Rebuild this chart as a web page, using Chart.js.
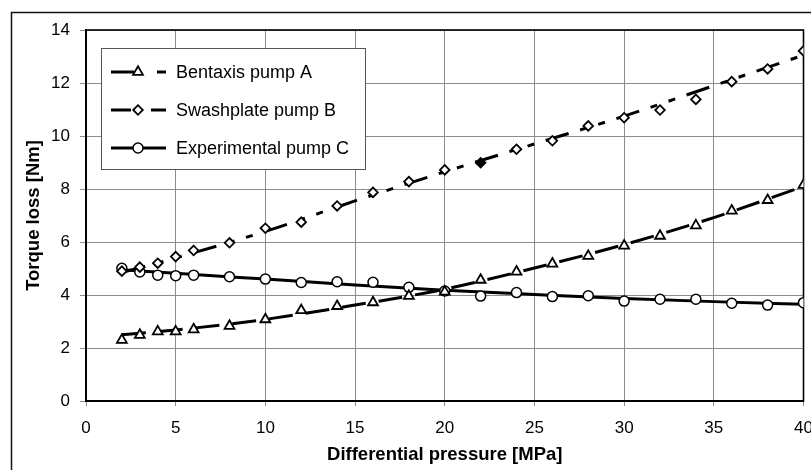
<!DOCTYPE html>
<html><head><meta charset="utf-8">
<script src="https://cdn.jsdelivr.net/npm/chart.js@4/dist/chart.umd.min.js"></script>
<style>html,body{margin:0;padding:0;background:#fff;overflow:hidden}#wrap{width:811px;height:470px;position:relative}</style>
</head><body><div id="wrap"><canvas id="c" width="811" height="470"></canvas></div>
<script>
// ---- data ----
const pressure = [2,3,4,5,6,8,10,12,14,16,18,20,22,24,26,28,30,32,34,36,38,40];
const pumpA = [2.30,2.49,2.62,2.62,2.70,2.83,3.08,3.42,3.58,3.72,3.96,4.12,4.57,4.88,5.18,5.47,5.86,6.23,6.62,7.18,7.58,8.15];
const pumpB = [4.90,5.05,5.20,5.45,5.68,5.97,6.52,6.75,7.36,7.87,8.28,8.72,8.99,9.50,9.82,10.38,10.69,10.98,11.38,12.05,12.53,13.21];
const pumpC = [5.01,4.87,4.75,4.73,4.75,4.69,4.60,4.47,4.50,4.48,4.29,4.15,3.96,4.09,3.94,3.97,3.77,3.84,3.84,3.69,3.62,3.71];
const trendX = [2,5,10,15,20,25,30,35,40];
const trendA = [2.50,2.68,3.08,3.62,4.22,5.02,5.90,6.92,8.10];
const trendB = [4.85,5.40,6.40,7.55,8.65,9.70,10.75,11.90,13.05];
const trendC = [4.95,4.82,4.60,4.38,4.18,4.02,3.87,3.75,3.65];
const xTicks = [0,5,10,15,20,25,30,35,40];
const yTicks = [0,2,4,6,8,10,12,14];
const seriesNames = ['Bentaxis pump A','Swashplate pump B','Experimental pump C'];
const xTitle = 'Differential pressure [MPa]';
const yTitle = 'Torque loss [Nm]';

const FONT = '"Liberation Sans", Arial, Helvetica, sans-serif';
const pts = (xs, ys) => xs.map((x, i) => ({x: x, y: ys[i]}));

const markerStyles = [
  {pointStyle: 'triangle', radius: 5.7, borderWidth: 1.8},
  {pointStyle: 'rectRot', radius: 4.8, borderWidth: 1.8},
  {pointStyle: 'circle', radius: 5, borderWidth: 1.5}
];
const dashes = [[24, 13], [24, 12, 7, 12, 7, 12], []];

const markerSets = [pumpA, pumpB, pumpC].map((ys, k) => ({
  label: seriesNames[k],
  data: pts(pressure, ys),
  showLine: false,
  pointStyle: markerStyles[k].pointStyle,
  pointRadius: markerStyles[k].radius,
  pointBorderWidth: markerStyles[k].borderWidth,
  pointBorderColor: '#000',
  pointBackgroundColor: k === 1 ? (c => (c.raw && c.raw.x === 22) ? '#000' : '#fff') : '#fff',
  pointHoverRadius: markerStyles[k].radius
}));
const trendSets = [trendA, trendB, trendC].map((ys, k) => ({
  label: seriesNames[k] + ' trend',
  data: pts(trendX, ys),
  showLine: true,
  pointRadius: 0,
  borderColor: '#000',
  borderWidth: 3,
  borderDash: dashes[k],
  cubicInterpolationMode: 'monotone',
  fill: false
}));

const framePlugin = {
  id: 'frame',
  beforeDraw(chart) {
    const ctx = chart.ctx;
    ctx.save();
    ctx.fillStyle = '#fff';
    ctx.fillRect(0, 0, chart.width, chart.height);
    ctx.strokeStyle = '#111';
    ctx.lineWidth = 1.5;
    ctx.strokeRect(11.5, 12.5, chart.width + 10, chart.height + 10);
    ctx.restore();
  },
  beforeDatasetsDraw(chart) {
    const a = chart.chartArea, ctx = chart.ctx;
    ctx.save();
    ctx.strokeStyle = '#000';
    ctx.lineWidth = 1.6;
    ctx.strokeRect(a.left, a.top, a.right - a.left, a.bottom - a.top);
    ctx.restore();
  },
  afterDraw(chart) {
    const ctx = chart.ctx;
    ctx.save();
    const bx = 101.5, by = 48.5, bw = 264, bh = 121;
    ctx.fillStyle = '#fff';
    ctx.fillRect(bx, by, bw, bh);
    ctx.strokeStyle = '#555';
    ctx.lineWidth = 1;
    ctx.strokeRect(bx, by, bw, bh);
    const rows = [72, 110, 148];
    const segs = [
      [[111, 134], [157, 166]],
      [[111, 131], [151, 166]],
      [[111, 166]]
    ];
    rows.forEach((y, k) => {
      ctx.strokeStyle = '#000';
      ctx.lineWidth = 3;
      ctx.setLineDash([]);
      segs[k].forEach(s => {
        ctx.beginPath(); ctx.moveTo(s[0], y); ctx.lineTo(s[1], y); ctx.stroke();
      });
      ctx.fillStyle = '#fff';
      ctx.strokeStyle = '#000';
      ctx.lineWidth = markerStyles[k].borderWidth;
      Chart.helpers.drawPoint(ctx, {pointStyle: markerStyles[k].pointStyle, radius: markerStyles[k].radius, borderWidth: markerStyles[k].borderWidth}, 138, y);
      ctx.fillStyle = '#000';
      ctx.font = '18px ' + FONT;
      ctx.textBaseline = 'middle';
      ctx.textAlign = 'left';
      ctx.fillText(seriesNames[k], 176, y + 1);
    });
    ctx.restore();
  }
};

new Chart(document.getElementById('c'), {
  type: 'scatter',
  data: {datasets: markerSets.concat(trendSets)},
  options: {
    responsive: false,
    animation: false,
    devicePixelRatio: 1,
    layout: {padding: {top: 30, right: 4, left: 0, bottom: 0}},
    plugins: {legend: {display: false}, tooltip: {enabled: false}},
    scales: {
      x: {
        type: 'linear', min: 0, max: 40,
        afterBuildTicks: s => { s.ticks = xTicks.map(v => ({value: v})); },
        afterFit: s => { s.height = 69; s.paddingLeft = 0; s.paddingRight = 0; },
        ticks: {color: '#000', font: {family: FONT, size: 17}, padding: 12, maxRotation: 0, autoSkip: false},
        grid: {color: '#8c8c8c', lineWidth: 1, tickLength: 5, tickColor: '#8c8c8c'},
        border: {display: true, color: '#000', width: 2},
        title: {display: true, text: xTitle, color: '#000', font: {family: FONT, size: 18.5, weight: 'bold'}, padding: {top: 0, bottom: 4}}
      },
      y: {
        type: 'linear', min: 0, max: 14,
        afterBuildTicks: s => { s.ticks = yTicks.map(v => ({value: v})); },
        afterFit: s => { s.width = 86; s.paddingTop = 0; s.paddingBottom = 0; },
        ticks: {color: '#000', font: {family: FONT, size: 17}, padding: 10, autoSkip: false},
        grid: {color: '#8c8c8c', lineWidth: 1, tickLength: 6, tickColor: '#8c8c8c'},
        border: {display: true, color: '#000', width: 2},
        title: {display: true, text: yTitle, color: '#000', font: {family: FONT, size: 18.5, weight: 'bold'}, padding: {top: 23, bottom: 0}}
      }
    }
  },
  plugins: [framePlugin]
});
</script>
</body></html>
